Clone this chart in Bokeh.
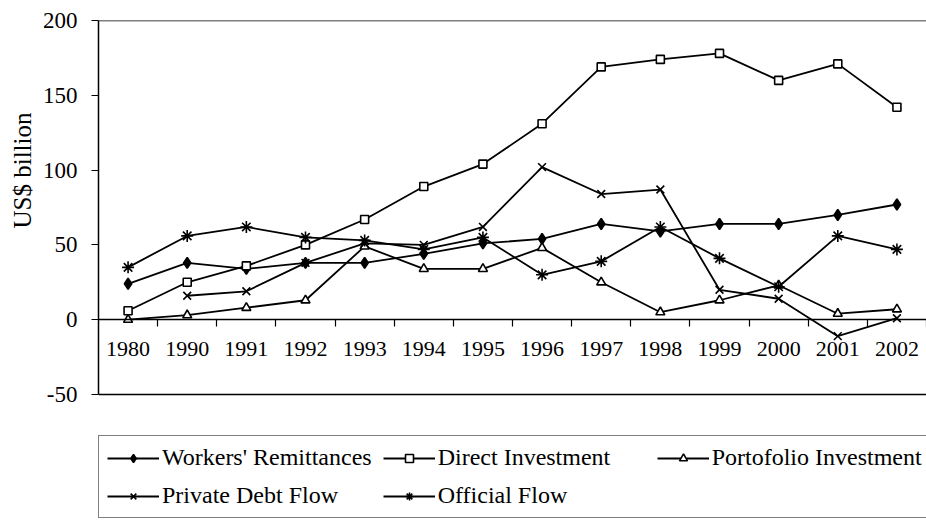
import math
from bokeh.plotting import figure
from bokeh.models import (Legend, LegendItem, LinearAxis, FixedTicker, Span,
                          Range1d, CustomJSTickFormatter, Title)
from bokeh.embed import file_html
from bokeh.resources import INLINE

years = ["1980", "1990", "1991", "1992", "1993", "1994", "1995",
         "1996", "1997", "1998", "1999", "2000", "2001", "2002"]
remittances = [24, 38, 34, 38, 38, 44, 51, 54, 64, 59, 64, 64, 70, 77]
direct_inv = [6, 25, 36, 50, 67, 89, 104, 131, 169, 174, 178, 160, 171, 142]
portfolio = [0, 3, 8, 13, 49, 34, 34, 48, 25, 5, 13, 23, 4, 7]
private_debt = [float("nan"), 16, 19, 38, 51, 50, 62, 102, 84, 87, 20, 14, -11, 1]
official = [35, 56, 62, 55, 53, 47, 55, 30, 39, 62, 41, 22, 56, 47]
y_ticks = [-50, 0, 50, 100, 150, 200]
y_tick_labels = ["-50", "0", "50", "100", "150", "200"]

FONT = "'Liberation Serif', 'Times New Roman', serif"
xs = [i + 0.5 for i in range(len(years))]

# Layout (pixels): the plot area runs from the 200 line (top) to the page
# bottom so that the legend box can sit inside it, below the -50 line.
W, H = 926, 523
TOP, LEFT = 20, 98
AXIS_PX = 374                      # pixels between the -50 and 200 lines
frame_h = H - TOP
y_lo = y_ticks[0] - (frame_h - AXIS_PX) / AXIS_PX * (y_ticks[-1] - y_ticks[0])

p = figure(width=W, height=H, x_range=Range1d(0, len(years)),
           y_range=Range1d(y_lo, y_ticks[-1]),
           output_backend="svg", toolbar_location=None,
           x_axis_location=None, min_border_left=LEFT, min_border_right=0,
           min_border_top=TOP, min_border_bottom=0)
p.xgrid.visible = False
p.ygrid.visible = False
p.outline_line_color = None
p.background_fill_color = "white"
p.border_fill_color = "white"

ya = p.yaxis[0]
ya.bounds = (y_ticks[0], y_ticks[-1])
ya.ticker = FixedTicker(ticks=y_ticks)
ya.major_label_overrides = {t: s for t, s in zip(y_ticks, y_tick_labels)}
ya.minor_tick_line_color = None
ya.major_tick_out = 7
ya.major_tick_in = 0
ya.major_label_standoff = 14
ya.major_label_text_font = FONT
ya.major_label_text_font_size = "23px"
ya.major_label_text_color = "black"
ya.axis_line_color = "black"
ya.axis_line_width = 1.5
ya.major_tick_line_color = "black"

# Y-axis title, placed beside the -50..200 span (top of text 92px below frame top)
p.add_layout(Title(text="US$ billion", align="right", offset=92,
                   text_font=FONT, text_font_size="25px",
                   text_font_style="normal", text_color="black",
                   standoff=8), "left")

# Tick marks at category boundaries on the zero line
tick_axis = LinearAxis(fixed_location=0,
                       ticker=FixedTicker(ticks=list(range(1, len(years) + 1))),
                       formatter=CustomJSTickFormatter(code="return ''"),
                       major_tick_out=7, major_tick_in=0,
                       major_tick_line_color="black", major_tick_line_width=1.2,
                       minor_tick_line_color=None,
                       axis_line_color="black", axis_line_width=1.5)
p.add_layout(tick_axis, "below")

# Category labels at category centres
label_axis = LinearAxis(fixed_location=0,
                        ticker=FixedTicker(ticks=xs),
                        major_label_overrides={x: y for x, y in zip(xs, years)},
                        major_tick_out=0, major_tick_in=0,
                        major_tick_line_color=None, minor_tick_line_color=None,
                        axis_line_color=None,
                        major_label_standoff=22,
                        major_label_text_font=FONT,
                        major_label_text_font_size="22px",
                        major_label_text_color="black")
p.add_layout(label_axis, "below")

p.add_layout(Span(location=y_ticks[-1], dimension="width", line_color="black", line_width=1.5))
p.add_layout(Span(location=y_ticks[0], dimension="width", line_color="black", line_width=1.5))

LW = 1.8
series = [
    ("Workers' Remittances", remittances, "diamond", 11, "black"),
    ("Direct Investment", direct_inv, "square", 8, "white"),
    ("Portofolio Investment", portfolio, "triangle", 9, "white"),
    ("Private Debt Flow", private_debt, "x", 11, "white"),
    ("Official Flow", official, "asterisk", 12, "white"),
]
items = []
for name, vals, marker, size, fill in series:
    l = p.line(xs, vals, line_color="black", line_width=LW)
    s = p.scatter(xs, vals, marker=marker, size=size, line_color="black",
                  line_width=1.6, fill_color=fill)
    items.append(LegendItem(label=name, renderers=[l, s]))

legend = Legend(items=items, ncols=3, orientation="horizontal",
                location=(0, 5),
                label_text_font=FONT, label_text_font_size="24px",
                label_text_color="black",
                glyph_width=52, glyph_height=20, label_standoff=3,
                label_width=208,
                spacing=11, padding=8, margin=0,
                border_line_color="black", border_line_width=1.2,
                background_fill_color="white", background_fill_alpha=1.0)
p.add_layout(legend, "center")

open("out.html", "w").write(file_html(p, INLINE))
